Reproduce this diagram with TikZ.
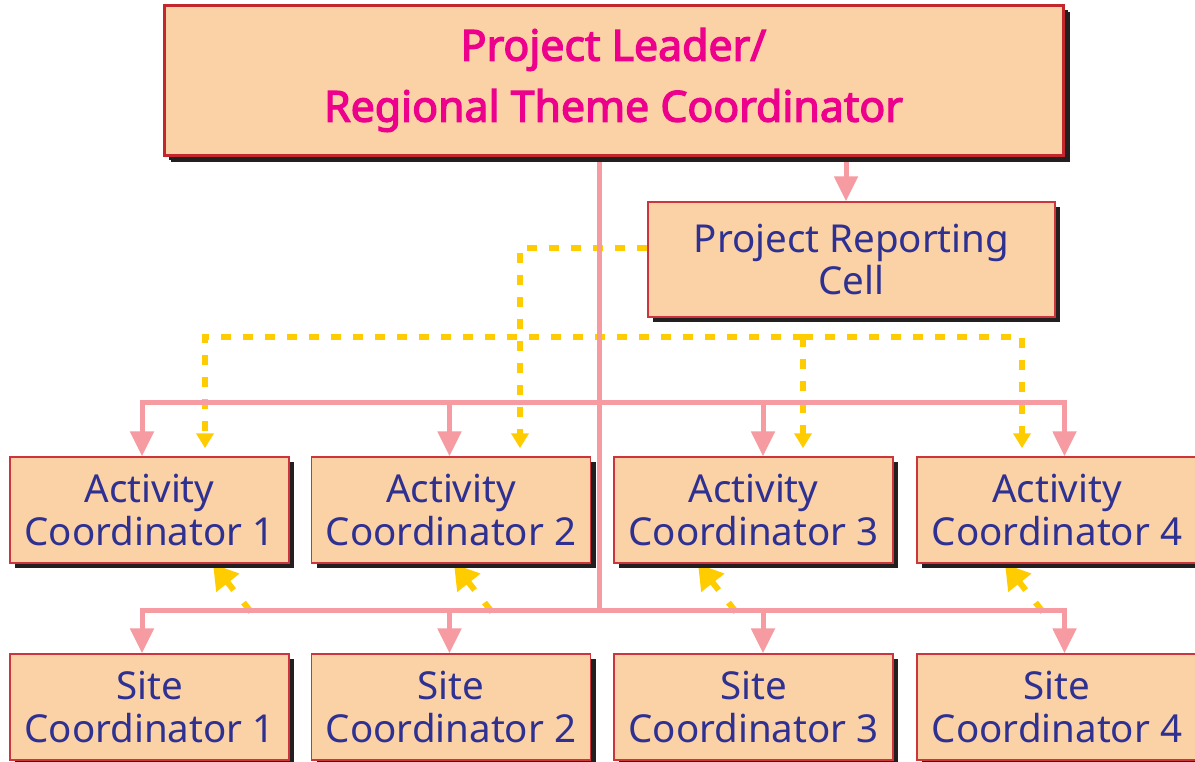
\documentclass[tikz,border=0pt]{standalone}
\usepackage{fontspec}
\setmainfont{Noto Sans}
\newfontfamily\titlefont{Noto Sans}[FakeBold=3]
\usetikzlibrary{arrows.meta,shadows}
\definecolor{peach}{HTML}{FBD1A6}
\definecolor{boxred}{HTML}{CC353B}
\definecolor{topred}{HTML}{C4262E}
\definecolor{pinkc}{HTML}{F59BA1}
\definecolor{yel}{HTML}{FFCC00}
\definecolor{tblue}{HTML}{2E3192}
\definecolor{mag}{HTML}{EC008C}
\definecolor{shadowc}{HTML}{231F20}
\pgfdeclarelayer{bg}
\pgfsetlayers{bg,main}
\begin{document}
\begin{tikzpicture}[x=1pt,y=-1pt,
  sh/.style={drop shadow={shadow xshift=#1, shadow yshift=-#1, fill=shadowc, opacity=1}},
  box/.style={draw=boxred, line width=1.5pt, fill=peach, text=tblue, align=center,
    font=\fontsize{38.5}{42.5}\selectfont, inner sep=0pt, sh=5pt},
  unit/.style={box, minimum width=279pt, minimum height=106pt},
  pline/.style={draw=pinkc, line width=5pt},
  parrow/.style={pline, -{Triangle[width=23pt,length=25pt]}},
  ydash/.style={draw=yel, line width=6pt, dash pattern=on 10pt off 12pt},
  yarrow/.style={ydash, shorten >=8pt, -{Triangle[width=17pt,length=15pt]}},
  ydiag/.style={draw=yel, line width=6pt, dash pattern=on 12pt off 16pt on 60pt,
    -{Triangle[width=28pt,length=24pt]}}
]
\useasboundingbox (0,0) rectangle (1195,761);

% boxes
\node[box, draw=topred, line width=3pt, minimum width=899pt, minimum height=150pt,
  text=mag, font=\titlefont\fontsize{42.8}{61}\selectfont, sh=7pt] (top) at (613.5,80)
  {Project Leader/\\Regional Theme Coordinator};
\node[box, minimum width=407pt, minimum height=115pt] (prc) at (851.5,259.5)
  {Project Reporting\\Cell};

\node[unit] (ac1) at (149.5,510) {Activity\\Coordinator 1};
\node[unit] (ac2) at (451,510) {Activity\\Coordinator 2};
\node[unit] (ac3) at (753.5,510) {Activity\\Coordinator 3};
\node[unit, minimum width=280pt] (ac4) at (1057,510) {Activity\\Coordinator 4};

\node[unit] (sc1) at (149.5,707) {Site\\Coordinator 1};
\node[unit] (sc2) at (451,707) {Site\\Coordinator 2};
\node[unit] (sc3) at (753.5,707) {Site\\Coordinator 3};
\node[unit, minimum width=280pt] (sc4) at (1057,707) {Site\\Coordinator 4};

% junction coordinates
\coordinate (ta) at (599,402);
\coordinate (tb) at (599,610);
\coordinate (a1) at (142,402);
\coordinate (a2) at (449.5,402);
\coordinate (a3) at (763,402);
\coordinate (a4) at (1064.5,402);
\coordinate (b1) at (142,610);
\coordinate (b2) at (449.5,610);
\coordinate (b3) at (763,610);
\coordinate (b4) at (1064.5,610);
\coordinate (rp) at (846,0);
\coordinate (y1) at (205,337);
\coordinate (y2) at (520,248);
\coordinate (y3) at (803,337);
\coordinate (y4) at (1022,337);
\coordinate (d1) at (251,612);
\coordinate (d2) at (492,612);
\coordinate (d3) at (736,612);
\coordinate (d4) at (1043,612);
\coordinate (t1) at (213,564);
\coordinate (t2) at (454,564);
\coordinate (t3) at (698,564);
\coordinate (t4) at (1005,564);

\begin{pgfonlayer}{bg}
\fill[white] (0,0) rectangle (1195,761);
% yellow dashed links
\draw[yarrow] (prc.west |- y2) -| (y2 |- ac2.north);
\draw[yarrow] (y3) -| (y1 |- ac1.north);
\draw[yarrow] (y3) -| (y4 |- ac4.north);
\draw[yarrow] (y3) -- (y3 |- ac3.north);
\draw[ydiag] (d1) -- (t1);
\draw[ydiag] (d2) -- (t2);
\draw[ydiag] (d3) -- (t3);
\draw[ydiag] (d4) -- (t4);
% pink solid links
\draw[pline] (top.south -| ta) -- (tb);
\draw[parrow] (top.south -| rp) -- (prc.north -| rp);
\draw[parrow] (ta) -| (a1 |- ac1.north);
\draw[parrow] (ta) -| (a4 |- ac4.north);
\draw[parrow] (a2) -- (a2 |- ac2.north);
\draw[parrow] (a3) -- (a3 |- ac3.north);
\draw[parrow] (tb) -| (b1 |- sc1.north);
\draw[parrow] (tb) -| (b4 |- sc4.north);
\draw[parrow] (b2) -- (b2 |- sc2.north);
\draw[parrow] (b3) -- (b3 |- sc3.north);
\end{pgfonlayer}
\end{tikzpicture}
\end{document}
